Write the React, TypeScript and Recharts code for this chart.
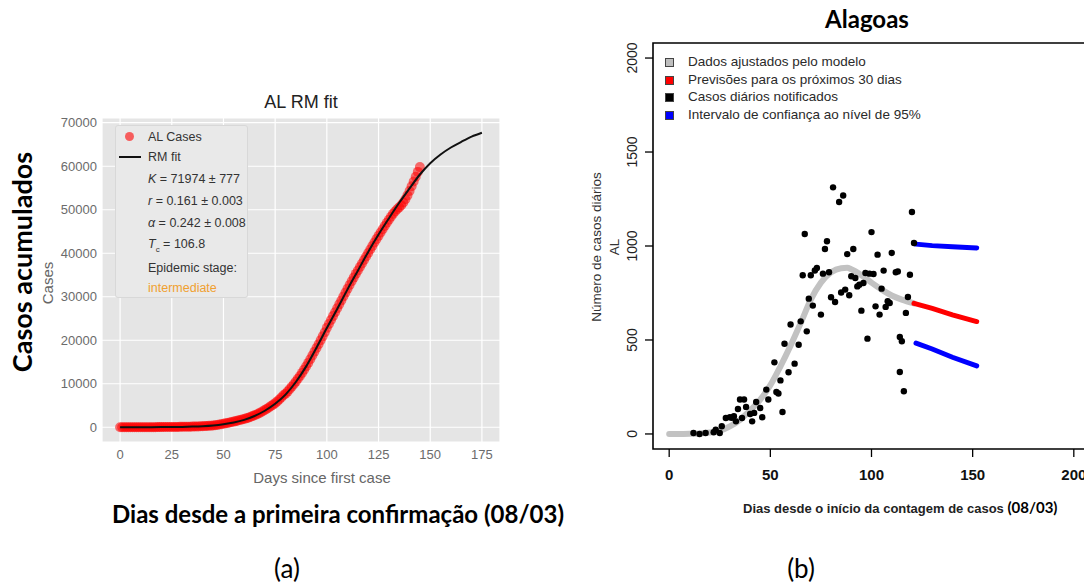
import React from 'react';
import { ComposedChart, Scatter, Line, XAxis, YAxis, CartesianGrid, ReferenceArea } from 'recharts';

// ---- panel (a): cumulative cases, one value per day since first case ----
const cumulativeCases = [
  1, 1, 1, 2, 3, 4, 6, 8, 10, 12,
  14, 16, 18, 20, 22, 25, 28, 31, 34, 38,
  42, 46, 50, 55, 60, 66, 72, 78, 85, 92,
  100, 110, 120, 130, 140, 150, 165, 180, 200, 220,
  245, 270, 300, 330, 370, 420, 480, 550, 620, 700,
  800, 900, 1000, 1100, 1200, 1300, 1420, 1540, 1660, 1780,
  1900, 2050, 2200, 2380, 2570, 2750, 2950, 3180, 3420, 3680,
  3950, 4250, 4560, 4880, 5200, 5550, 5950, 6380, 6850, 7350,
  7700, 8200, 8750, 9300, 9900, 10500, 11150, 11800, 12500, 13250,
  14000, 14800, 15650, 16500, 17350, 18200, 19100, 20000, 20900, 21850,
  22850, 23750, 24650, 25550, 26450, 27350, 28250, 29150, 30050, 30950,
  31850, 32700, 33550, 34400, 35250, 36050, 36850, 37650, 38450, 39250,
  40050, 40850, 41650, 42450, 43250, 44000, 44750, 45500, 46250, 47000,
  47700, 48400, 49050, 49600, 50100, 50550, 51050, 51650, 52400, 53300,
  54300, 55400, 56500, 57600, 58700, 59800,
];

const rmFitDays = [
  0, 5, 10, 15, 20, 25, 30, 35, 40, 45, 50, 55, 60, 65, 70, 75, 80, 85,
  90, 95, 100, 105, 110, 115, 120, 125, 130, 135, 140, 145, 150, 155, 160, 165, 170, 175,
];
const rmFitCases = [
  3, 6, 12, 20, 35, 55, 90, 150, 250, 420, 700, 1100, 1700, 2600, 3800, 5400, 7500, 10400,
  14000, 18300, 22800, 27200, 31700, 36000, 40300, 44300, 48000, 51600, 54900, 58100, 60700, 62700, 64300, 65600, 66800, 67700,
];

const aXTicks = [0, 25, 50, 75, 100, 125, 150, 175];
const aYTicks = [0, 10000, 20000, 30000, 40000, 50000, 60000, 70000];

// ---- panel (b): daily notified cases, model fit, 30-day forecast and 95% band ----
const notifiedDays = [
  81, 86, 84, 120, 67, 100, 78, 77, 121, 91,
  88, 103, 110, 73, 72, 70, 66, 76, 79, 106,
  112, 113, 119, 97, 101, 90, 92, 94, 93, 96,
  87, 85, 89, 80, 82, 105, 108, 109, 118, 107,
  102, 104, 95, 75, 117, 71, 69, 68, 98, 114,
  115, 114, 116, 65, 64, 60, 57, 62, 59, 52,
  55, 53, 54, 48, 49, 56, 43, 45, 46, 40,
  38, 35, 37, 34, 41, 36, 32, 30, 28, 33,
  26, 25, 22, 18, 15, 12, 23, 42, 99, 31,
];
const notifiedCounts = [
  1312, 1269, 1234, 1181, 1064, 1074, 1025, 984, 1016, 984,
  957, 954, 963, 883, 870, 844, 844, 853, 860, 869,
  860, 865, 847, 856, 851, 839, 830, 794, 785, 803,
  768, 753, 738, 727, 702, 773, 706, 697, 729, 676,
  679, 635, 656, 635, 644, 683, 720, 546, 507, 516,
  493, 330, 227, 599, 475, 582, 480, 374, 328, 381,
  285, 223, 215, 236, 183, 117, 170, 138, 89, 106,
  144, 183, 183, 133, 67, 85, 94, 89, 85, 67,
  41, 5, 9, 5, 0, 5, 23, 112, 853, 86,
];

const fittedDays = [0, 5, 10, 15, 20, 25, 30, 35, 40, 45, 50, 55, 60, 65, 70, 75, 80, 85, 88, 90, 95, 100, 105, 110, 115, 121];
const fittedCounts = [0, 0, 1, 3, 8, 17, 40, 75, 125, 183, 260, 360, 470, 590, 715, 805, 860, 882, 884, 876, 845, 805, 768, 737, 715, 695];

const forecastDays = [121, 130, 140, 152];
const forecastCounts = [695, 668, 634, 598];

const bandDays = [122, 130, 140, 152];
const upperBand = [1010, 1002, 996, 990];
const lowerBand = [483, 452, 408, 362];

const bXTicks = [0, 50, 100, 150, 200];
const bYTicks = [0, 500, 1000, 1500, 2000];

const bLegendLabels = [
  'Dados ajustados pelo modelo',
  'Previsões para os próximos 30 dias',
  'Casos diários notificados',
  'Intervalo de confiança ao nível de 95%',
];
const bLegendColors = ['#bebebe', '#ff0000', '#000000', '#0000ff'];

// series tables built from the arrays above
const casesA = cumulativeCases.map((cases, day) => ({ day, cases }));
const fitA = rmFitDays.map((day, i) => ({ day, fit: rmFitCases[i] }));
const notifiedB = notifiedDays.map((day, i) => ({ day, count: notifiedCounts[i] }));
const fittedB = fittedDays.map((day, i) => ({ day, count: fittedCounts[i] }));
const forecastB = forecastDays.map((day, i) => ({ day, count: forecastCounts[i] }));
const upperB = bandDays.map((day, i) => ({ day, count: upperBand[i] }));
const lowerB = bandDays.map((day, i) => ({ day, count: lowerBand[i] }));

const SANS = "'Liberation Sans', Arial, sans-serif";
const CALIBRI = "Lato, 'Open Sans', sans-serif";

const centered = (x: number, y: number, extra: React.CSSProperties = {}): React.CSSProperties => ({
  position: 'absolute',
  left: x,
  top: y,
  transform: 'translate(-50%, -50%)',
  whiteSpace: 'nowrap',
  lineHeight: 1,
  ...extra,
});

const rotated = (x: number, y: number, extra: React.CSSProperties = {}): React.CSSProperties => ({
  ...centered(x, y, extra),
  transform: 'translate(-50%, -50%) rotate(-90deg)',
});

const SideTick = (props: any) => {
  const { x, y, payload } = props;
  return (
    <text x={x} y={y} transform={`rotate(-90 ${x} ${y})`} textAnchor="middle" fontSize={14} fill="#222" fontFamily={SANS}>
      {payload.value}
    </text>
  );
};

const RMLegend = () => {
  const row = (top: number): React.CSSProperties => ({
    position: 'absolute', left: 32, top, transform: 'translateY(-50%)', whiteSpace: 'nowrap', lineHeight: 1,
  });
  return (
    <div style={{
      position: 'absolute', left: 115, top: 125, width: 133, height: 173,
      background: '#e9e9e9', border: '1px solid #d8d8d8', borderRadius: 3,
      fontFamily: SANS, fontSize: 12.5, color: '#333', boxSizing: 'border-box',
    }}>
      <div style={{ position: 'absolute', left: 9, top: 6, width: 9, height: 9, borderRadius: '50%', background: '#ff0000', opacity: 0.6 }} />
      <div style={row(11)}>AL Cases</div>
      <div style={{ position: 'absolute', left: 3, top: 30, width: 22, height: 2, background: '#111' }} />
      <div style={row(31)}>RM fit</div>
      <div style={row(53)}><i>K</i> = 71974 ± 777</div>
      <div style={row(75)}><i>r</i> = 0.161 ± 0.003</div>
      <div style={row(97)}><i>α</i> = 0.242 ± 0.008</div>
      <div style={row(120)}><i>T</i><sub style={{ fontSize: 8 }}>c</sub> = 106.8</div>
      <div style={row(142)}>Epidemic stage:</div>
      <div style={{ ...row(162), color: '#f0a030' }}>intermediate</div>
    </div>
  );
};

const PanelA = () => (
  <div style={{ position: 'absolute', left: 0, top: 0 }}>
    <ComposedChart width={560} height={540} margin={{ top: 118, right: 60, bottom: 68, left: 52 }}>
      <CartesianGrid fill="#e5e5e5" fillOpacity={1} stroke="#ffffff" strokeWidth={1.2} />
      <XAxis
        dataKey="day" type="number" domain={[-8.75, 183.75]} ticks={aXTicks} allowDataOverflow
        tickLine={false} axisLine={false} tickSize={3} tickMargin={5} height={30}
        tick={{ fill: '#6b6b6b', fontSize: 13, fontFamily: SANS }}
      />
      <YAxis
        type="number" domain={[-3385, 71085]} ticks={aYTicks} allowDataOverflow
        tickLine={false} axisLine={false} tickSize={3} tickMargin={2} width={50}
        tick={{ fill: '#6b6b6b', fontSize: 13, fontFamily: SANS }}
      />
      <Scatter
        name="AL Cases" data={casesA} dataKey="cases" fill="#ff0000" isAnimationActive={false}
        shape={(p: any) => <circle cx={p.cx} cy={p.cy} r={5} fill="#ff0000" fillOpacity={0.55} />}
      />
      <Line
        name="RM fit" data={fitA} dataKey="fit" type="monotone" stroke="#111" strokeWidth={2}
        dot={false} isAnimationActive={false} zIndex={900}
      />
    </ComposedChart>
    <RMLegend />
    <div style={centered(301, 102, { fontFamily: SANS, fontSize: 18, color: '#222' })}>AL RM fit</div>
    <div style={centered(322, 477, { fontFamily: SANS, fontSize: 15, color: '#666' })}>Days since first case</div>
    <div style={rotated(47, 283, { fontFamily: SANS, fontSize: 15, color: '#666' })}>Cases</div>
  </div>
);

const BLegend = () => (
  <div style={{ position: 'absolute', left: 663, top: 53, fontFamily: SANS, fontSize: 13.5, color: '#2a2a2a' }}>
    {bLegendLabels.map((label, i) => (
      <div key={label} style={{ position: 'relative', height: 17.6, whiteSpace: 'nowrap' }}>
        <span style={{
          position: 'absolute', left: 2, top: 5, width: 7, height: 7,
          background: bLegendColors[i], border: '1px solid #444',
        }} />
        <span style={{ position: 'absolute', left: 25, top: 2, lineHeight: 1 }}>{label}</span>
      </div>
    ))}
  </div>
);

const PanelB = () => (
  <div style={{ position: 'absolute', left: 590, top: 0 }}>
    <ComposedChart width={520} height={540} margin={{ top: 43, right: 20, bottom: 61, left: 23 }}>
      <XAxis
        dataKey="day" type="number" domain={[-8, 208]} ticks={bXTicks} allowDataOverflow
        tickSize={8} tickMargin={12} height={30}
        tickLine={{ stroke: '#000', strokeWidth: 1.3 }} axisLine={false}
        tick={{ fill: '#111', fontSize: 15, fontWeight: 700, fontFamily: SANS }}
      />
      <YAxis
        type="number" domain={[-80, 2080]} ticks={bYTicks} allowDataOverflow
        tickSize={8} tickMargin={8} width={40}
        tickLine={{ stroke: '#000', strokeWidth: 1.3 }} axisLine={false}
        tick={<SideTick />}
      />
      <ReferenceArea x1={-8} x2={208} y1={-80} y2={2080} fill="none" stroke="#000" strokeWidth={1.6} ifOverflow="visible" />
      <Line data={fittedB} dataKey="count" type="monotone" stroke="#c2c2c2" strokeWidth={6} strokeLinecap="round" dot={false} isAnimationActive={false} />
      <Scatter
        data={notifiedB} dataKey="count" fill="#000" isAnimationActive={false}
        shape={(p: any) => <circle cx={p.cx} cy={p.cy} r={3.2} fill="#000" />}
      />
      <Line data={forecastB} dataKey="count" type="linear" stroke="#ff0000" strokeWidth={5} strokeLinecap="round" dot={false} isAnimationActive={false} />
      <Line data={upperB} dataKey="count" type="linear" stroke="#0000ff" strokeWidth={5} strokeLinecap="round" dot={false} isAnimationActive={false} />
      <Line data={lowerB} dataKey="count" type="linear" stroke="#0000ff" strokeWidth={5} strokeLinecap="round" dot={false} isAnimationActive={false} />
    </ComposedChart>
  </div>
);

export default function App() {
  return (
    <div style={{ position: 'absolute', left: 0, top: 0, width: 1084, height: 586, overflow: 'hidden', background: '#fff' }}>
      <PanelA />
      <PanelB />
      <BLegend />
      <div style={rotated(21, 262, { fontFamily: CALIBRI, fontSize: 27, fontWeight: 700, color: '#000' })}>Casos acumulados</div>
      <div style={centered(338, 514, { fontFamily: CALIBRI, fontSize: 24, fontWeight: 700, color: '#000' })}>
        Dias desde a primeira confirmação (08/03)
      </div>
      <div style={centered(867, 19, { fontFamily: CALIBRI, fontSize: 24, fontWeight: 700, color: '#000' })}>Alagoas</div>
      <div style={rotated(597, 247, { fontFamily: SANS, fontSize: 13.5, color: '#333' })}>Número de casos diários</div>
      <div style={rotated(615, 247, { fontFamily: SANS, fontSize: 13.5, color: '#333' })}>AL</div>
      <div style={{ position: 'absolute', left: 743, top: 508, transform: 'translateY(-50%)', whiteSpace: 'nowrap', lineHeight: 1 }}>
        <span style={{ fontFamily: SANS, fontSize: 13, fontWeight: 700, color: '#222' }}>Dias desde o início da contagem de casos </span>
        <span style={{ fontFamily: CALIBRI, fontSize: 15, fontWeight: 700, color: '#000' }}>(08/03)</span>
      </div>
      <div style={centered(287, 568, { fontFamily: CALIBRI, fontSize: 26, color: '#000' })}>(a)</div>
      <div style={centered(801, 568, { fontFamily: CALIBRI, fontSize: 26, color: '#000' })}>(b)</div>
    </div>
  );
}
